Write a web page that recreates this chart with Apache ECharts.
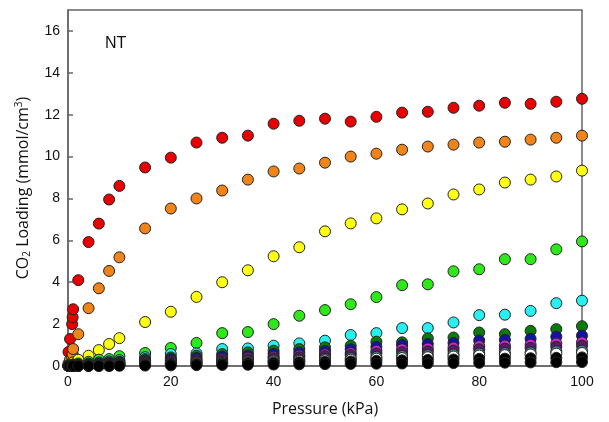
<!DOCTYPE html>
<html>
<head>
<meta charset="utf-8">
<script src="https://cdn.jsdelivr.net/npm/echarts@6/dist/echarts.min.js"></script>
<style>html,body{margin:0;padding:0;background:#fff;}#c{width:609px;height:422px;}</style>
</head>
<body>
<div id="c"></div>
<script>
const pressures = [0.1, 0.4, 0.8, 0.9, 1, 2, 4, 6, 8, 10, 15, 20, 25, 30, 35, 40, 45, 50, 55, 60, 65, 70, 75, 80, 85, 90, 95, 100];
const xTicks = [0, 20, 40, 60, 80, 100];
const yTicks = [0, 2, 4, 6, 8, 10, 12, 14, 16];

const red = [0.67, 1.29, 2.0, 2.32, 2.71, 4.1, 5.92, 6.8, 7.95, 8.6, 9.48, 9.95, 10.67, 10.9, 11.0, 11.57, 11.71, 11.81, 11.67, 11.9, 12.1, 12.14, 12.33, 12.43, 12.57, 12.52, 12.62, 12.76];
const orange = [0.12, 0.3, 0.43, 0.57, 0.81, 1.52, 2.76, 3.71, 4.54, 5.19, 6.57, 7.52, 8.0, 8.38, 8.9, 9.29, 9.43, 9.71, 10.0, 10.14, 10.33, 10.48, 10.57, 10.67, 10.71, 10.81, 10.9, 11.0];
const yellow = [0.03, 0.08, 0.13, 0.15, 0.17, 0.3, 0.49, 0.76, 1.05, 1.33, 2.1, 2.59, 3.3, 4.0, 4.57, 5.24, 5.67, 6.43, 6.81, 7.05, 7.48, 7.76, 8.19, 8.43, 8.76, 8.9, 9.05, 9.33];
const green = [0.01, 0.03, 0.05, 0.06, 0.07, 0.12, 0.2, 0.3, 0.33, 0.47, 0.62, 0.86, 1.1, 1.57, 1.62, 2.0, 2.4, 2.67, 2.95, 3.29, 3.86, 3.9, 4.52, 4.62, 5.1, 5.1, 5.57, 5.95];
const cyan = [0.01, 0.02, 0.03, 0.03, 0.04, 0.07, 0.12, 0.17, 0.22, 0.28, 0.42, 0.57, 0.6, 0.81, 0.84, 0.97, 1.08, 1.21, 1.48, 1.57, 1.81, 1.81, 2.08, 2.43, 2.45, 2.63, 3.0, 3.12];
const darkGreen = [0.0, 0.01, 0.02, 0.02, 0.03, 0.05, 0.09, 0.13, 0.17, 0.21, 0.33, 0.41, 0.49, 0.57, 0.65, 0.73, 0.81, 0.89, 0.97, 1.16, 1.13, 1.32, 1.36, 1.6, 1.52, 1.68, 1.76, 1.9];
const navy = [0, 0.01, 0.01, 0.02, 0.02, 0.04, 0.07, 0.1, 0.13, 0.17, 0.26, 0.33, 0.38, 0.45, 0.5, 0.58, 0.65, 0.72, 0.8, 0.92, 1.0, 1.05, 1.1, 1.22, 1.25, 1.3, 1.4, 1.45];
const magenta = [0, 0, 0.01, 0.01, 0.01, 0.03, 0.05, 0.08, 0.1, 0.13, 0.2, 0.25, 0.29, 0.34, 0.39, 0.44, 0.5, 0.56, 0.62, 0.73, 0.8, 0.84, 0.88, 0.95, 0.98, 1.02, 1.08, 1.13];
const purple = [0, 0, 0, 0.01, 0.01, 0.02, 0.04, 0.06, 0.08, 0.1, 0.16, 0.2, 0.24, 0.28, 0.32, 0.37, 0.42, 0.47, 0.52, 0.6, 0.66, 0.7, 0.74, 0.8, 0.83, 0.87, 0.92, 0.97];
const teal = [0, 0, 0, 0, 0.01, 0.02, 0.03, 0.04, 0.06, 0.07, 0.11, 0.14, 0.17, 0.2, 0.23, 0.27, 0.3, 0.34, 0.38, 0.44, 0.48, 0.52, 0.55, 0.6, 0.62, 0.65, 0.7, 0.73];
const white = [0, 0, 0, 0, 0, 0.01, 0.02, 0.03, 0.04, 0.05, 0.08, 0.1, 0.13, 0.15, 0.18, 0.21, 0.24, 0.27, 0.3, 0.35, 0.38, 0.42, 0.45, 0.5, 0.52, 0.55, 0.59, 0.62];
const black1 = [0, 0, 0, 0, 0, 0.01, 0.01, 0.02, 0.03, 0.04, 0.06, 0.08, 0.1, 0.12, 0.14, 0.16, 0.18, 0.2, 0.22, 0.25, 0.27, 0.29, 0.31, 0.34, 0.35, 0.37, 0.39, 0.41];
const black2 = [0, 0, 0, 0, 0, 0, 0, 0, 0, 0.01, 0.02, 0.03, 0.04, 0.05, 0.06, 0.07, 0.08, 0.09, 0.1, 0.11, 0.12, 0.13, 0.14, 0.15, 0.16, 0.17, 0.18, 0.19];

const seriesList = [
  {name: 'red', data: red, color: '#e80000'},
  {name: 'orange', data: orange, color: '#f08418'},
  {name: 'yellow', data: yellow, color: '#ffff10'},
  {name: 'green', data: green, color: '#2ee81a'},
  {name: 'cyan', data: cyan, color: '#28f0f0'},
  {name: 'darkGreen', data: darkGreen, color: '#0a7a0a'},
  {name: 'navy', data: navy, color: '#1414a0'},
  {name: 'magenta', data: magenta, color: '#d028d0'},
  {name: 'purple', data: purple, color: '#5a1a6a'},
  {name: 'teal', data: teal, color: '#4a8a94'},
  {name: 'white', data: white, color: '#ffffff'},
  {name: 'black1', data: black1, color: '#000000'},
  {name: 'black2', data: black2, color: '#000000'}
];

const chart = echarts.init(document.getElementById('c'), null, {renderer: 'canvas'});
const axisCol = '#666666';
const labelFont = {color: '#111', fontSize: 14, fontFamily: 'Liberation Sans'};
chart.setOption({
  animation: false,
  backgroundColor: '#ffffff',
  grid: {left: 68, right: 27, top: 10, bottom: 54, show: true, borderColor: axisCol, borderWidth: 1.5, backgroundColor: 'transparent'},
  xAxis: {
    type: 'value', min: 0, max: 100, interval: 20,
    name: 'Pressure (kPa)', nameLocation: 'middle', nameGap: 35,
    nameTextStyle: {fontSize: 16, fontFamily: 'Open Sans', color: '#111'},
    axisLine: {show: true, lineStyle: {color: axisCol, width: 1.5}},
    axisTick: {show: true, inside: true, length: 5, lineStyle: {color: axisCol, width: 1.5}},
    axisLabel: Object.assign({margin: 9, formatter: v => xTicks.includes(v) ? String(v) : ''}, labelFont),
    splitLine: {show: false}
  },
  yAxis: {
    type: 'value', min: 0, max: 17, interval: 2,
    name: 'CO{sub|2} Loading (mmol/cm{sup|3})', nameLocation: 'middle', nameGap: 36, nameRotate: 90,
    nameTextStyle: {fontSize: 16, fontFamily: 'Open Sans', color: '#111',
      rich: {
        sub: {fontSize: 10, fontFamily: 'Open Sans', color: '#111', verticalAlign: 'bottom', padding: [8, 0, 0, 0]},
        sup: {fontSize: 10, fontFamily: 'Open Sans', color: '#111', verticalAlign: 'top', padding: [0, 0, 6, 0]}
      }},
    axisLine: {show: true, lineStyle: {color: axisCol, width: 1.5}},
    axisTick: {show: true, inside: true, length: 5, lineStyle: {color: axisCol, width: 1.5}},
    axisLabel: Object.assign({margin: 8, showMaxLabel: false, formatter: v => yTicks.includes(v) ? String(v) : ''}, labelFont),
    splitLine: {show: false}
  },
  graphic: [{type: 'text', left: 105, top: 36, style: {text: 'NT', fontSize: 16, fontFamily: 'Liberation Sans', fill: '#111'}}],
  series: seriesList.map(s => ({
    name: s.name, type: 'scatter', clip: false,
    symbol: 'circle', symbolSize: 11,
    itemStyle: {color: s.color, borderColor: '#222', borderWidth: 1, opacity: 1},
    data: pressures.map((p, i) => [p, s.data[i]])
  }))
});
</script>
</body>
</html>
